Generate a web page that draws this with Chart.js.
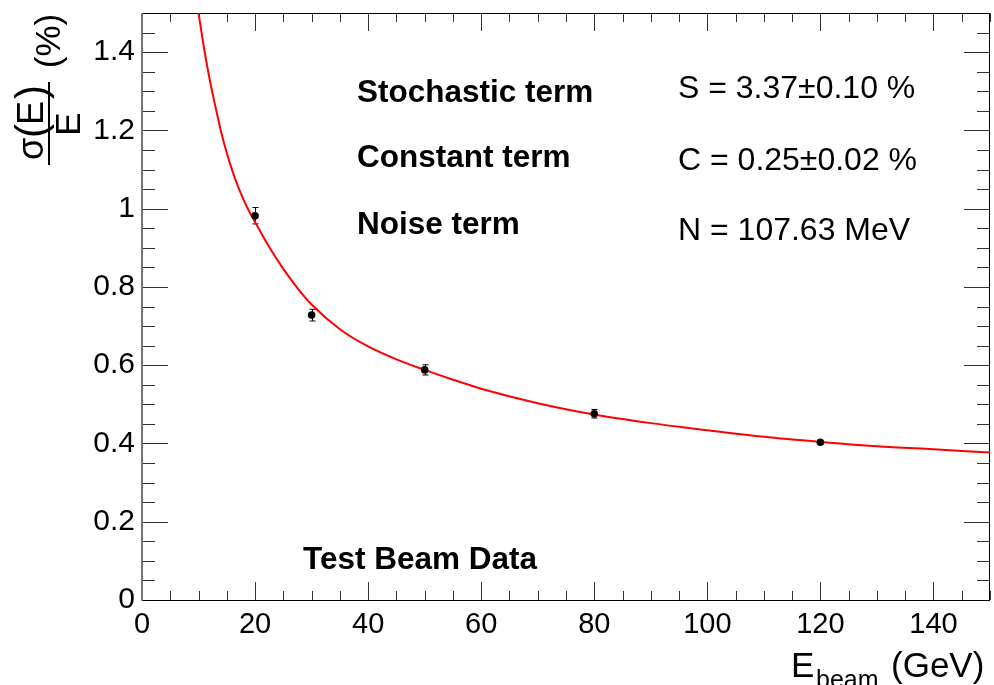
<!DOCTYPE html>
<html>
<head>
<meta charset="utf-8">
<script src="https://cdn.jsdelivr.net/npm/chart.js@4.4.1/dist/chart.umd.min.js"></script>
<style>
  html, body { margin: 0; padding: 0; background: #fff; }
  canvas { display: block; }
</style>
</head>
<body>
<canvas id="resolucao" width="994" height="685"></canvas>
<script>
// test beam points (energy in GeV, resolution in %)
const energias = [20, 30, 50, 80, 120];
const resolucao = [0.982, 0.728, 0.588, 0.476, 0.403];
const erros = [0.021, 0.015, 0.013, 0.011, 0.004];

// fitted curve, sampled along the line
const ajusteEnergia = [10, 11, 12, 13, 14, 15, 16, 17, 18, 19, 20, 22.5, 25, 27.5, 30, 35, 40, 45, 50, 55, 60, 70, 80, 90, 100, 110, 120, 130, 140, 150];
const ajusteResolucao = [1.5, 1.408, 1.328, 1.26, 1.196, 1.142, 1.096, 1.056, 1.022, 0.992, 0.966, 0.902, 0.846, 0.797, 0.755, 0.692, 0.648, 0.615, 0.588, 0.563, 0.540, 0.503, 0.474, 0.452, 0.434, 0.417, 0.404, 0.393, 0.385, 0.377];

// axis ticks
const ticksX = [0, 20, 40, 60, 80, 100, 120, 140];
const ticksY = [0, 0.2, 0.4, 0.6, 0.8, 1, 1.2, 1.4];

// fit results
const termos = ['Stochastic term', 'Constant term', 'Noise term'];
const valoresTermos = ['S = 3.37\u00b10.10 %', 'C = 0.25\u00b10.02 %', 'N = 107.63 MeV'];

const fonte = '"Liberation Sans", Arial, Helvetica, sans-serif';

// frame with inside ticks on all four sides + error bars
const moldura = {
    id: 'moldura',
    beforeDatasetsDraw(chart) {
        const { ctx, chartArea: a, scales: { x, y } } = chart;
        ctx.save();
        ctx.lineWidth = 1;
        ctx.strokeStyle = '#333';
        ctx.beginPath();
        for (let i = 0; i <= 30; i++) {
            const px = Math.round(x.getPixelForValue(i * 5)) + 0.5;
            const len = i % 4 === 0 ? 18 : 9;
            ctx.moveTo(px, a.bottom); ctx.lineTo(px, a.bottom - len);
            ctx.moveTo(px, a.top); ctx.lineTo(px, a.top + len);
        }
        for (let i = 0; i <= 30; i++) {
            const py = Math.round(y.getPixelForValue(i * 0.05)) + 0.5;
            const len = i % 4 === 0 ? 26 : 13;
            ctx.moveTo(a.left, py); ctx.lineTo(a.left + len, py);
            ctx.moveTo(a.right, py); ctx.lineTo(a.right - len, py);
        }
        ctx.stroke();

        ctx.strokeStyle = '#000';
        ctx.beginPath();
        ctx.moveTo(a.left, a.top + 0.5); ctx.lineTo(a.right, a.top + 0.5);
        ctx.moveTo(a.right - 0.5, a.top); ctx.lineTo(a.right - 0.5, a.bottom);
        ctx.moveTo(a.left, a.bottom + 0.5); ctx.lineTo(a.right, a.bottom + 0.5);
        ctx.stroke();
        ctx.strokeStyle = '#777';
        ctx.lineWidth = 2;
        ctx.beginPath();
        ctx.moveTo(a.left, a.top); ctx.lineTo(a.left, a.bottom + 1);
        ctx.stroke();

        // error bars
        ctx.strokeStyle = '#000';
        ctx.lineWidth = 1;
        ctx.beginPath();
        energias.forEach((e, i) => {
            const px = Math.round(x.getPixelForValue(e)) + 0.5;
            const yt = y.getPixelForValue(resolucao[i] + erros[i]);
            const yb = y.getPixelForValue(resolucao[i] - erros[i]);
            ctx.moveTo(px, yt); ctx.lineTo(px, yb);
            ctx.moveTo(px - 3, yt); ctx.lineTo(px + 3, yt);
            ctx.moveTo(px - 3, yb); ctx.lineTo(px + 3, yb);
        });
        ctx.stroke();
        ctx.restore();
    },
    afterDraw(chart) {
        const ctx = chart.ctx;
        ctx.save();
        ctx.fillStyle = '#000';
        ctx.textBaseline = 'alphabetic';

        // text inside the frame
        ctx.font = 'bold 31.5px ' + fonte;
        ctx.textAlign = 'left';
        const linhas = [102, 167, 234];
        termos.forEach((t, i) => ctx.fillText(t, 357, linhas[i]));
        ctx.font = '32px ' + fonte;
        const linhasValores = [98, 170, 240];
        valoresTermos.forEach((t, i) => ctx.fillText(t, 678, linhasValores[i]));
        ctx.font = 'bold 31.5px ' + fonte;
        ctx.fillText('Test Beam Data', 303, 569);

        // x axis title
        ctx.font = '35px ' + fonte;
        ctx.fillText('E', 791, 677);
        ctx.font = '25px ' + fonte;
        ctx.fillText('beam', 816, 688);
        ctx.font = '35px ' + fonte;
        ctx.fillText('(GeV)', 891, 677);

        // y axis title, rotated: sigma(E) over E, then (%)
        ctx.rotate(-Math.PI / 2);
        ctx.textAlign = 'center';
        ctx.font = '36px ' + fonte;
        ctx.fillText('\u03c3', -149, 43);
        ctx.font = '42px ' + fonte;
        ctx.fillText('(', -131, 45);
        ctx.font = '36px ' + fonte;
        ctx.fillText('E', -113, 43);
        ctx.font = '42px ' + fonte;
        ctx.fillText(')', -92, 45);
        ctx.font = '35px ' + fonte;
        ctx.fillText('E', -124, 80);
        ctx.fillText('(%)', -41, 60);
        ctx.fillRect(-165, 48, 83, 2);
        ctx.restore();
    }
};

const grafico = new Chart(document.getElementById('resolucao'), {
    type: 'scatter',
    data: {
        datasets: [{
            label: 'Test Beam Data',
            data: energias.map((e, i) => ({ x: e, y: resolucao[i] })),
            showLine: false,
            pointRadius: 3.8,
            pointBackgroundColor: '#000',
            pointBorderColor: '#000',
            pointBorderWidth: 0,
            order: 0
        }, {
            label: 'ajuste',
            data: ajusteEnergia.map((e, i) => ({ x: e, y: ajusteResolucao[i] })),
            showLine: true,
            borderColor: '#ff0000',
            borderWidth: 2,
            pointRadius: 0,
            cubicInterpolationMode: 'monotone',
            order: 1
        }]
    },
    options: {
        responsive: false,
        animation: false,
        devicePixelRatio: 1,
        layout: { padding: { top: 13, right: 3, left: 0, bottom: 0 } },
        plugins: { legend: { display: false }, tooltip: { enabled: false } },
        scales: {
            x: {
                type: 'linear',
                min: 0,
                max: 150,
                afterBuildTicks: (s) => { s.ticks = ticksX.map(v => ({ value: v })); },
                afterFit: (s) => { s.height = 85; s.paddingLeft = 0; s.paddingRight = 0; },
                ticks: {
                    autoSkip: false,
                    maxRotation: 0,
                    padding: 8,
                    color: '#000',
                    font: { family: fonte, size: 29 },
                    callback: (v) => String(v)
                },
                grid: { display: false, drawTicks: false },
                border: { display: false }
            },
            y: {
                type: 'linear',
                min: 0,
                max: 1.5,
                afterBuildTicks: (s) => { s.ticks = ticksY.map(v => ({ value: v })); },
                afterFit: (s) => { s.width = 142; s.paddingTop = 0; s.paddingBottom = 0; },
                ticks: {
                    autoSkip: false,
                    padding: 7,
                    color: '#000',
                    font: { family: fonte, size: 30 },
                    callback: (v) => String(v)
                },
                grid: { display: false, drawTicks: false },
                border: { display: false }
            }
        }
    },
    plugins: [moldura]
});
</script>
</body>
</html>
